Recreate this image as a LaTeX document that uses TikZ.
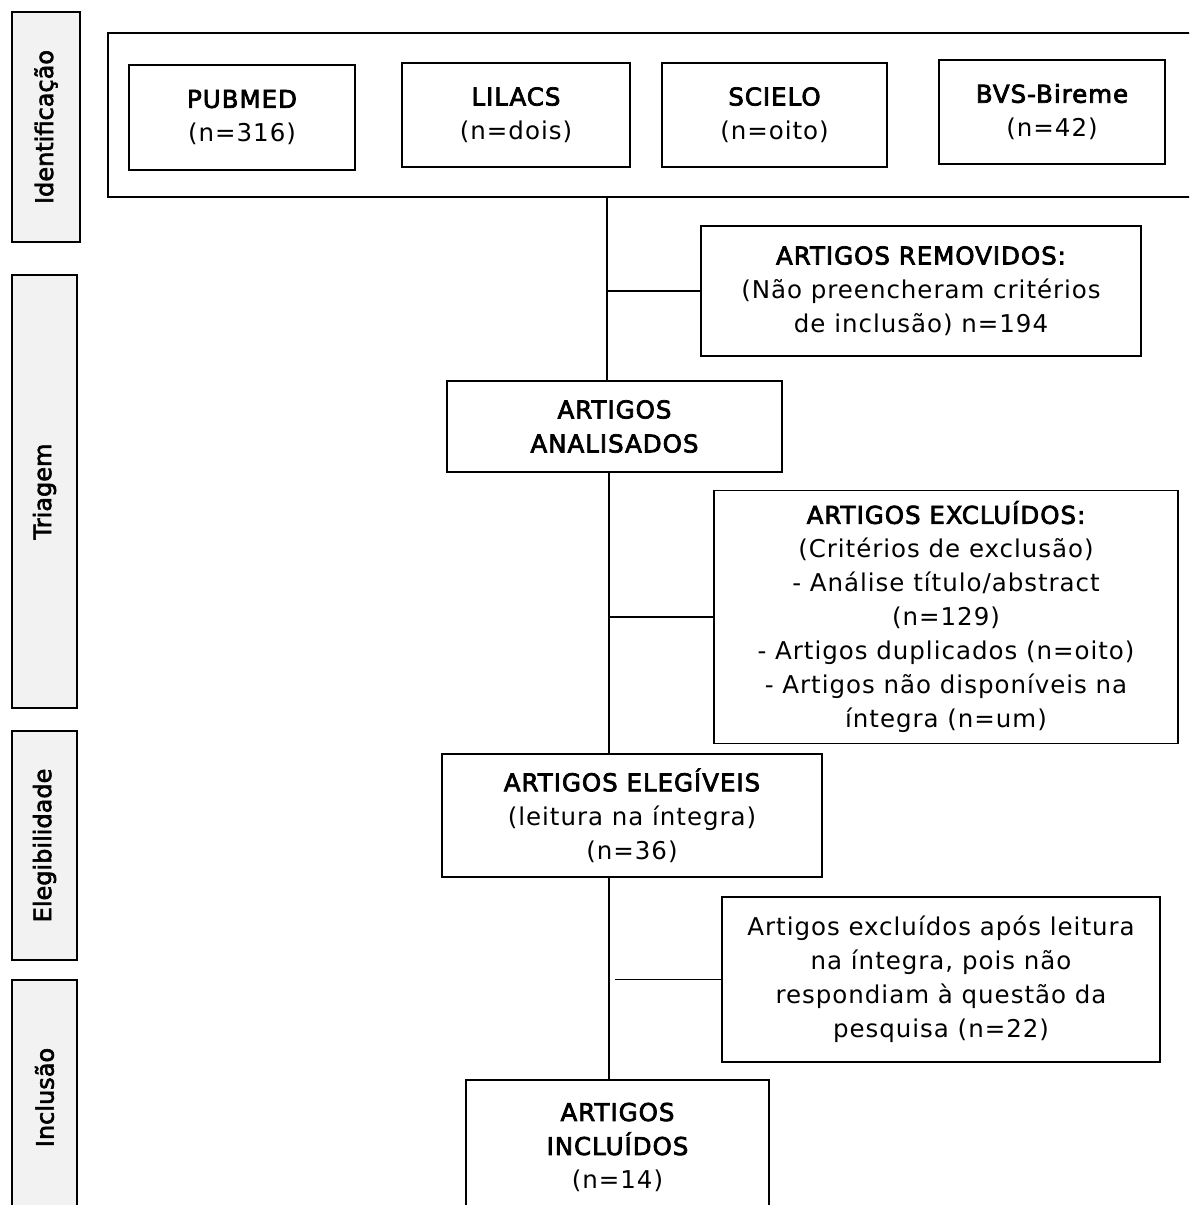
\documentclass[tikz,border=0pt]{standalone}
\usepackage{fontspec}
\setmainfont{DejaVu Sans}[LetterSpace=4]
\newfontfamily\headfont{DejaVu Sans}[LetterSpace=4, FakeBold=3]
\newfontfamily\phasefont{DejaVu Sans}[FakeBold=2.5]
\usetikzlibrary{positioning}

\tikzset{
  phase/.style={draw, fill=black!5, line width=1.6pt, inner sep=0pt, rotate=90,
    font=\phasefont\fontsize{24}{30}\selectfont},
  stagebox/.style={draw, line width=1.6pt, align=center, inner sep=0pt,
    font=\fontsize{24.5}{34}\selectfont},
  link/.style={line width=1.6pt},
}

\begin{document}
\begin{tikzpicture}[x=1pt,y=-1pt]
\clip (0,0) rectangle (1189,1205);
\useasboundingbox (0,0) rectangle (1189,1205);

% fases
\node[phase, minimum width=230, minimum height=68] (ident) at (46,127) {Identificação};
\node[phase, minimum width=433, minimum height=65] (triagem) at (44.5,491.5) {Triagem};
\node[phase, minimum width=229, minimum height=65] (eleg) at (44.5,845.5) {Elegibilidade};
\node[phase, minimum width=235, minimum height=65] (inclus) at (44.5,1097.5) {Inclusão};

% bases de dados
\node[stagebox, minimum width=1092, minimum height=164] (bases) at (654,115) {};
\node[stagebox, minimum width=226, minimum height=105] (pubmed) at (242,117.5) {{\headfont PUBMED}\\(n=316)};
\node[stagebox, minimum width=228, minimum height=104] (lilacs) at (516,115) {{\headfont LILACS}\\(n=dois)};
\node[stagebox, minimum width=225, minimum height=104] (scielo) at (774.5,115) {{\headfont SCIELO}\\(n=oito)};
\node[stagebox, minimum width=226, minimum height=104] (bvs) at (1052,112) {{\headfont BVS-Bireme}\\(n=42)};

% etapas
\node[stagebox, minimum width=440, minimum height=130] (removidos) at (921,291)
  {{\headfont ARTIGOS REMOVIDOS:}\\(Não preencheram critérios\\de inclusão) n=194};
\node[stagebox, minimum width=335, minimum height=91] (analisados) at (614.5,426.5)
  {\headfont ARTIGOS\\\headfont ANALISADOS};
\node[stagebox, minimum width=464, minimum height=253] (excluidos) at (946,617)
  {{\headfont ARTIGOS EXCLUÍDOS:}\\(Critérios de exclusão)\\- Análise título/abstract\\(n=129)\\- Artigos duplicados (n=oito)\\- Artigos não disponíveis na\\íntegra (n=um)};
\node[stagebox, minimum width=380, minimum height=123] (elegiveis) at (632,815.5)
  {{\headfont ARTIGOS ELEGÍVEIS}\\(leitura na íntegra)\\(n=36)};
\node[stagebox, minimum width=438, minimum height=165] (leitura) at (941,979.5)
  {Artigos excluídos após leitura\\na íntegra, pois não\\respondiam à questão da\\pesquisa (n=22)};
\node[stagebox, minimum width=303, minimum height=135] (incluidos) at (617.5,1147.5)
  {\headfont ARTIGOS\\\headfont INCLUÍDOS\\(n=14)};

% ligacoes
\coordinate (eixoA) at (607,0);
\coordinate (eixoB) at (609,0);
\coordinate (eixoC) at (615,0);
\draw[link] (bases.south -| eixoA) -- (analisados.north -| eixoA);
\draw[link] (removidos.west) -- (removidos.west -| eixoA);
\draw[link] (analisados.south -| eixoB) -- (elegiveis.north -| eixoB);
\draw[link] (excluidos.west) -- (excluidos.west -| eixoB);
\draw[link] (elegiveis.south -| eixoB) -- (incluidos.north -| eixoB);
\draw[link] (leitura.west) -- (leitura.west -| eixoC);
\end{tikzpicture}
\end{document}
